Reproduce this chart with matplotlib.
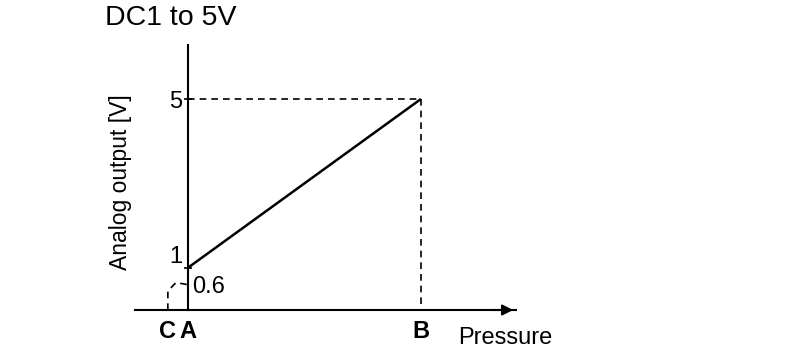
import matplotlib.pyplot as plt
import numpy as np

plt.rcParams['font.family'] = ['Liberation Sans', 'DejaVu Sans']

# Pressure positions (A = 0 %, B = 100 % of range), C = below-range pressure
p_A = 0.0
p_B = 10.0
p_C = -0.86
# Analog output values [V]
v_A = 1.0
v_B = 5.0
v_C = 0.6

x_labels = ['C', 'A', 'B']
y_ticks = [1, 5]

fig = plt.figure(figsize=(8, 3.56), dpi=100)
ax = fig.add_axes([135 / 800, 46 / 356, 381 / 800, 265 / 356])
ax.set_xlim(-2.27, 14.08)
ax.set_ylim(0, 6.28)

# axes as spines through the origin
ax.spines['left'].set_position(('data', 0))
ax.spines['bottom'].set_position(('data', 0))
ax.spines['top'].set_visible(False)
ax.spines['right'].set_visible(False)
ax.spines['left'].set_linewidth(1.5)
ax.spines['bottom'].set_linewidth(1.5)
ax.annotate('', xy=(14.08, 0), xytext=(13.0, 0),
            arrowprops=dict(arrowstyle='-|>', color='black', lw=1.5,
                            mutation_scale=16), annotation_clip=False)

# main characteristic line
ax.plot([p_A, p_B], [v_A, v_B], color='black', lw=1.8, solid_capstyle='butt')

# dashed guides
ax.plot([p_A, p_B], [v_B, v_B], color='black', lw=1.2, ls=(0, (4, 3)))
ax.plot([p_B, p_B], [v_B, 0], color='black', lw=1.2, ls=(0, (4, 3)))
ax.plot([p_C, p_C, p_C + 0.35, p_A], [0, 0.45, 0.65, v_C],
        color='black', lw=1.2, ls=(0, (4, 3)))

# ticks
ax.set_yticks(y_ticks)
ax.set_yticklabels([str(t) for t in y_ticks], fontsize=17)
ax.get_yticklabels()[0].set_verticalalignment('bottom')  # "1" sits a bit above
ax.tick_params(axis='y', direction='inout', length=6, width=1.2, pad=1)
ax.set_xticks([p_C, p_A, p_B])
ax.set_xticklabels(x_labels, fontsize=17, fontweight='bold')
ax.tick_params(axis='x', length=0, pad=7)

ax.text(0.2, v_C - 0.05, '0.6', fontsize=17, va='center', ha='left')

fig.text(121 / 800, 1 - 182 / 356, 'Analog output [V]', fontsize=16.5,
         rotation=90, va='center', ha='center')
fig.text(458 / 800, 1 - 338 / 356, 'Pressure', fontsize=17, va='center', ha='left')
fig.text(105 / 800, 1 - 18 / 356, 'DC1 to 5V', fontsize=20.5, va='center', ha='left')

fig.savefig('out.png', dpi=100)
